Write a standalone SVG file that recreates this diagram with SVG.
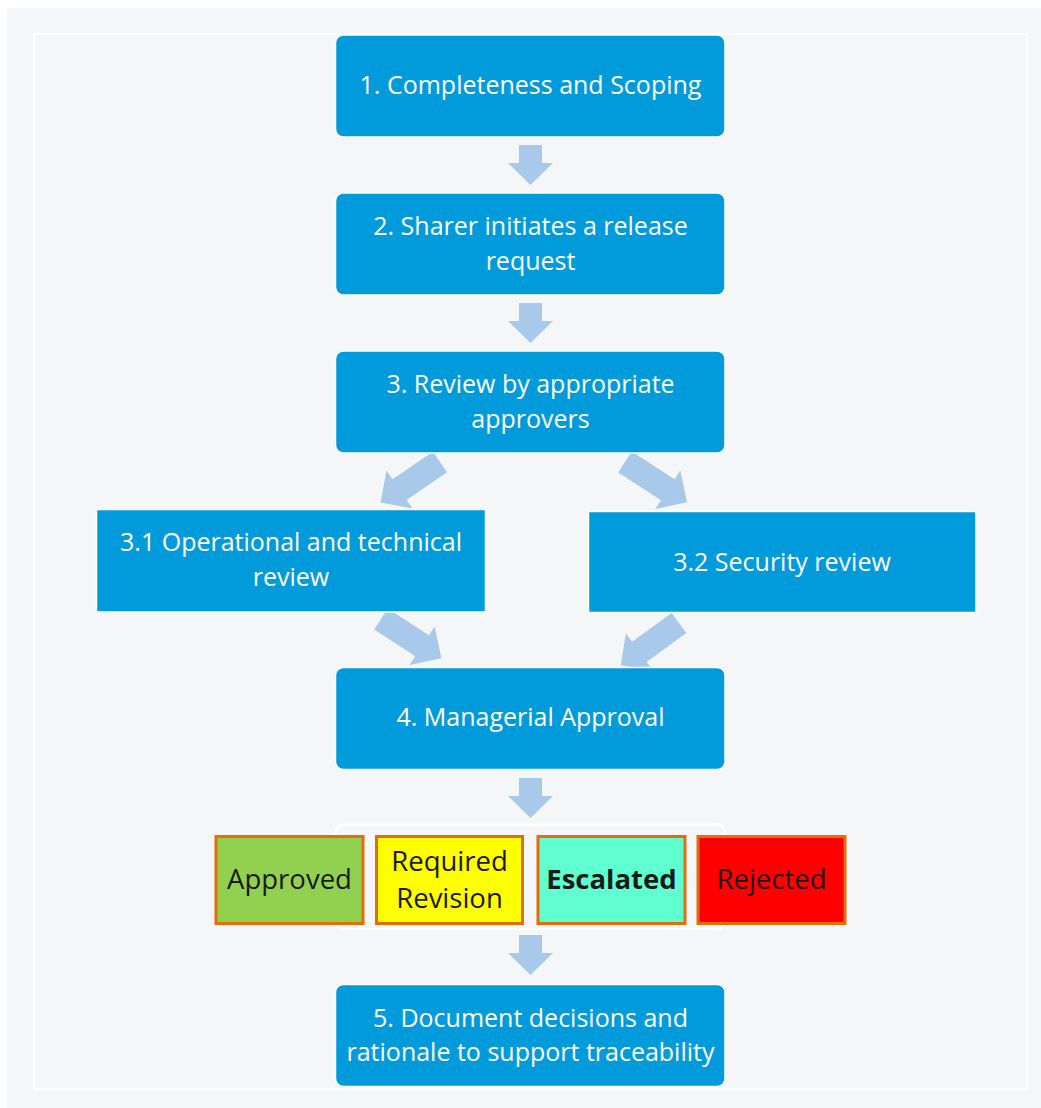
<svg xmlns="http://www.w3.org/2000/svg" xmlns:xlink="http://www.w3.org/1999/xlink" width="1041" height="1108" viewBox="0 0 1041 1108">
  <style>
    .step { fill: #019bdc; stroke: #ffffff; stroke-width: 1.5; }
    .label { font-family: "Open Sans", "Noto Sans", "DejaVu Sans", sans-serif; font-size: 25px; fill: #ffffff; text-anchor: middle; }
    .outcome { stroke: #e46c0a; stroke-width: 3; }
    .olabel { font-family: "Open Sans", "Noto Sans", "DejaVu Sans", sans-serif; font-size: 27.5px; fill: #1a1a1a; text-anchor: middle; }
    .flow { fill: #a9c9ea; }
  </style>
  <defs>
    <!-- block arrows pointing along +x, tail at origin -->
    <path id="arrowShort" d="M0,-11.5 H18 V-22.5 L40,0 L18,22.5 V11.5 H0 Z"/>
    <path id="arrowLong" d="M0,-12.5 H49 V-23 L72,0 L49,23 V12.5 H0 Z"/>
    <path id="arrowLong74" d="M0,-12.5 H51 V-23 L74,0 L51,23 V12.5 H0 Z"/>
  </defs>

  <!-- canvas -->
  <rect x="0" y="0" width="1041" height="1108" fill="#ffffff"/>
  <rect x="7" y="8" width="1034" height="1100" fill="#f5f6f8"/>
  <rect x="34" y="34" width="993" height="1055" fill="none" stroke="#ffffff" stroke-width="1.8"/>

  <!-- connectors -->
  <g id="connectors" class="flow">
    <use xlink:href="#arrowShort" transform="translate(530.5,145) rotate(90)"/>
    <use xlink:href="#arrowShort" transform="translate(530.5,303) rotate(90)"/>
    <use xlink:href="#arrowLong" transform="translate(440,462) rotate(145.7)"/>
    <use xlink:href="#arrowLong74" transform="translate(625,462) rotate(33)"/>
    <use xlink:href="#arrowLong" transform="translate(381,619) rotate(33)"/>
    <use xlink:href="#arrowLong" transform="translate(679,623) rotate(144)"/>
    <use xlink:href="#arrowShort" transform="translate(530.5,778) rotate(90)"/>
    <use xlink:href="#arrowShort" transform="translate(530.5,935) rotate(90)"/>
  </g>

  <g id="step1">
    <rect class="step" x="335.5" y="35" width="389.5" height="102" rx="8"/>
    <text class="label" x="530.5" y="94">1. Completeness and Scoping</text>
  </g>

  <g id="step2">
    <rect class="step" x="335.5" y="193" width="389.5" height="102" rx="8"/>
    <text class="label" x="530.5" y="235.4">2. Sharer initiates a release<tspan x="530.5" dy="34.2">request</tspan></text>
  </g>

  <g id="step3">
    <rect class="step" x="335.5" y="351" width="389.5" height="102" rx="8"/>
    <text class="label" x="530.5" y="393.4">3. Review by appropriate<tspan x="530.5" dy="34.2">approvers</tspan></text>
  </g>

  <g id="step3-1">
    <rect class="step" x="96.5" y="509.5" width="389" height="102.5"/>
    <text class="label" x="291" y="551.4">3.1 Operational and technical<tspan x="291" dy="34.2">review</tspan></text>
  </g>

  <g id="step3-2">
    <rect class="step" x="588.5" y="511.5" width="387.5" height="101"/>
    <text class="label" x="782" y="570.5">3.2 Security review</text>
  </g>

  <g id="step4">
    <rect class="step" x="335.5" y="667.5" width="389.5" height="102" rx="8"/>
    <text class="label" x="530.5" y="726">4. Managerial Approval</text>
  </g>

  <g id="outcomes">
    <rect x="335.5" y="824.5" width="389.5" height="104.5" rx="8" fill="none" stroke="#ffffff" stroke-width="2.5"/>
    <g id="approved">
      <rect class="outcome" x="216" y="836.5" width="147" height="87" fill="#92d050"/>
      <text class="olabel" x="289.5" y="889">Approved</text>
    </g>
    <g id="revision">
      <rect class="outcome" x="376.5" y="836.5" width="146" height="87" fill="#ffff00"/>
      <text class="olabel" x="449.5" y="870.5">Required<tspan x="449.5" dy="37.8">Revision</tspan></text>
    </g>
    <g id="escalated">
      <rect class="outcome" x="538" y="836.5" width="147" height="87" fill="#5fffcf"/>
      <text class="olabel" x="611.5" y="889" font-weight="bold" fill="#000000">Escalated</text>
    </g>
    <g id="rejected">
      <rect class="outcome" x="698" y="836.5" width="147" height="87" fill="#ff0000"/>
      <text class="olabel" x="771.5" y="889">Rejected</text>
    </g>
  </g>

  <g id="step5">
    <rect class="step" x="335.5" y="984.5" width="389.5" height="102" rx="8"/>
    <text class="label" x="530.5" y="1026.9">5. Document decisions and<tspan x="530.5" dy="34.2">rationale to support traceability</tspan></text>
  </g>
</svg>
